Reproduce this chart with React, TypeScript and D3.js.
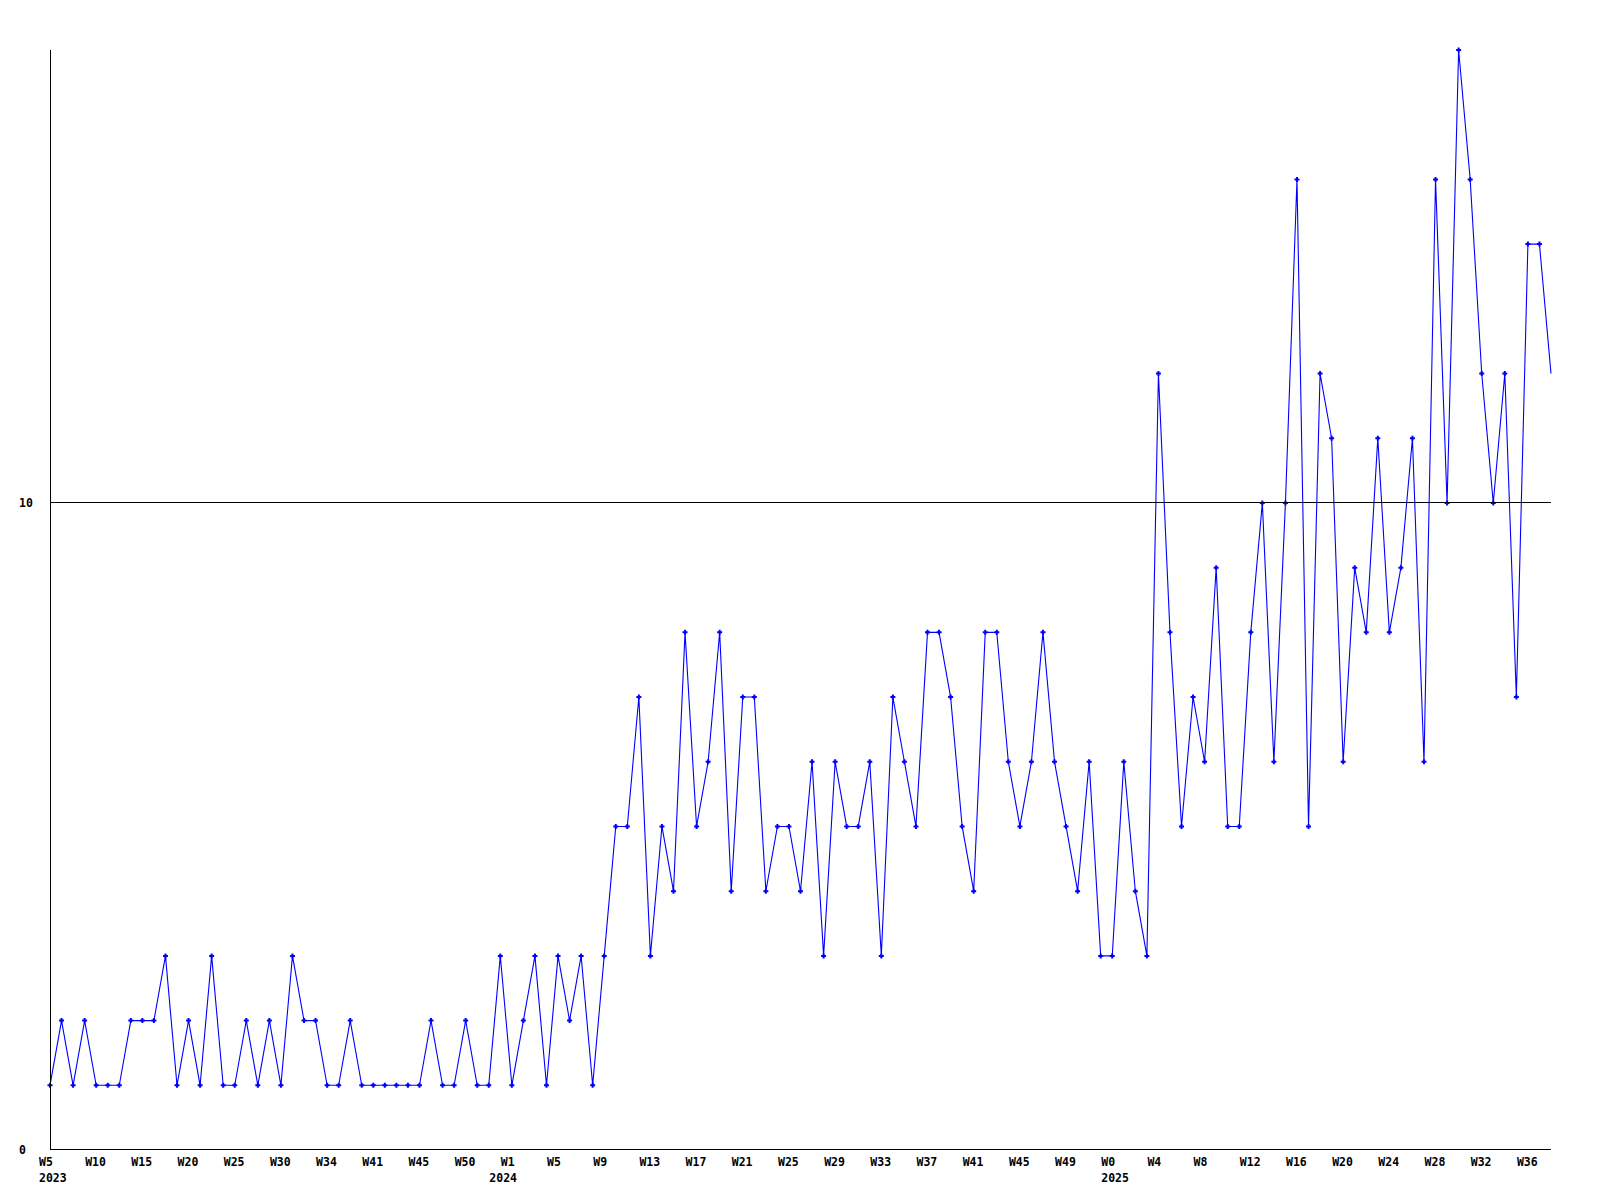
import React from "react";
import * as d3 from "d3";

const values: number[] = [
  1, 2, 1, 2, 1, 1, 1, 2, 2, 2,
  3, 1, 2, 1, 3, 1, 1, 2, 1, 2,
  1, 3, 2, 2, 1, 1, 2, 1, 1, 1,
  1, 1, 1, 2, 1, 1, 2, 1, 1, 3,
  1, 2, 3, 1, 3, 2, 3, 1, 3, 5,
  5, 7, 3, 5, 4, 8, 5, 6, 8, 4,
  7, 7, 4, 5, 5, 4, 6, 3, 6, 5,
  5, 6, 3, 7, 6, 5, 8, 8, 7, 5,
  4, 8, 8, 6, 5, 6, 8, 6, 5, 4,
  6, 3, 3, 6, 4, 3, 12, 8, 5, 7,
  6, 9, 5, 5, 8, 10, 6, 10, 15, 5,
  12, 11, 6, 9, 8, 11, 8, 9, 11, 6,
  15, 10, 17, 15, 12, 10, 12, 7, 14, 14,
  12,
];

const weekLabels: string[] = [
  "W5", "W10", "W15", "W20", "W25", "W30", "W34", "W41", "W45", "W50",
  "W1", "W5", "W9", "W13", "W17", "W21", "W25", "W29", "W33", "W37", "W41", "W45", "W49",
  "W0", "W4", "W8", "W12", "W16", "W20", "W24", "W28", "W32", "W36",
];
const labelEvery = 4;

const yearLabels: string[] = ["2023", "2024", "2025"];
const yearStartIndex: number[] = [0, 39, 92];

const yTicks: number[] = [0, 10];
const yMax = 17;

const W = 1600;
const H = 1200;
const left = 50;
const right = 1551;
const top = 50;
const bottom = 1150;

const FONT = "'DejaVu Sans Mono', 'Liberation Mono', monospace";

export default function App() {
  const x = d3.scaleLinear().domain([0, values.length - 1]).range([left, right]);
  const y = d3.scaleLinear().domain([0, yMax]).range([bottom, top]);
  const line = d3
    .line<number>()
    .x((_, i) => x(i))
    .y((d) => y(d));

  const crisp = (v: number) => Math.round(v) + 0.5;

  return (
    <svg
      width={W}
      height={H}
      style={{ position: "absolute", left: 0, top: 0, background: "#fff" }}
    >
      <rect x={0} y={0} width={W} height={H} fill="#fff" />
      <path d={line(values) || ""} fill="none" stroke="#0000ff" strokeWidth={1.1} />
      {values.slice(0, values.length - 1).map((v, i) => (
        <path
          key={i}
          d={`M${x(i) - 2.5},${y(v)}H${x(i) + 2.5}M${x(i)},${y(v) - 2.5}V${y(v) + 2.5}`}
          stroke="#0000ff"
          strokeWidth={2}
        />
      ))}
      {yTicks
        .filter((t) => t > 0)
        .map((t) => (
          <line
            key={t}
            x1={left}
            x2={right}
            y1={crisp(y(t)) - 1}
            y2={crisp(y(t)) - 1}
            stroke="#000"
            strokeWidth={1}
            shapeRendering="crispEdges"
          />
        ))}
      <line x1={crisp(left)} x2={crisp(left)} y1={top} y2={bottom} stroke="#000" strokeWidth={1} shapeRendering="crispEdges" />
      <line x1={left} x2={right} y1={crisp(bottom) - 1} y2={crisp(bottom) - 1} stroke="#000" strokeWidth={1} shapeRendering="crispEdges" />
      {yTicks.map((t) => (
        <text
          key={t}
          x={19}
          y={y(t) + 4}
          fontFamily={FONT}
          fontWeight="bold"
          fontSize={11.5}
          fill="#000"
        >
          {t}
        </text>
      ))}
      {weekLabels.map((lab, k) => (
        <text
          key={k}
          x={x(k * labelEvery) - 11}
          y={1166}
          fontFamily={FONT}
          fontWeight="bold"
          fontSize={11.5}
          fill="#000"
        >
          {lab}
        </text>
      ))}
      {yearLabels.map((lab, k) => (
        <text
          key={lab}
          x={x(yearStartIndex[k]) - 11}
          y={1182}
          fontFamily={FONT}
          fontWeight="bold"
          fontSize={11.5}
          fill="#000"
        >
          {lab}
        </text>
      ))}
    </svg>
  );
}
